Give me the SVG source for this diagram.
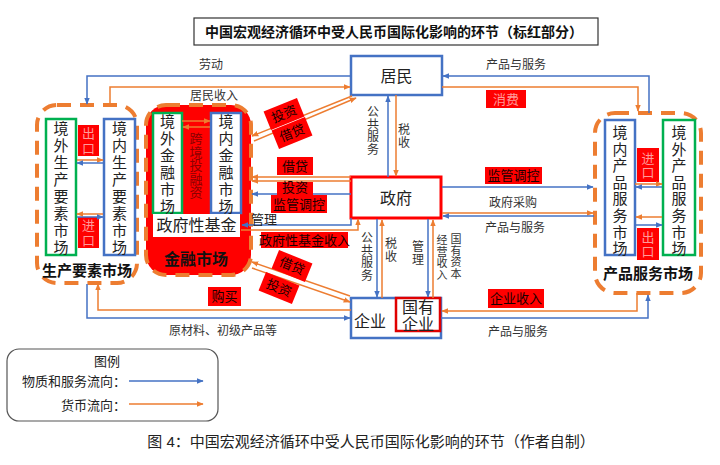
<svg xmlns="http://www.w3.org/2000/svg" width="720" height="465" viewBox="0 0 720 465">
<defs>
<style>
text{font-family:"Liberation Sans","Noto Sans CJK SC",sans-serif;fill:#222;dominant-baseline:central;text-anchor:middle}
.bl{fill:none;stroke:#4472C4;stroke-width:1.5;marker-end:url(#ab)}
.or{fill:none;stroke:#ED7D31;stroke-width:1.5;marker-end:url(#ao)}
.bbox{fill:#fff;stroke:#4472C4;stroke-width:2.5}
.gbox{fill:#fff;stroke:#00B050;stroke-width:2.5}
.dash{stroke:#ED7D31;stroke-width:4;stroke-dasharray:14 9}
.rl{fill:#FF0000}
.lt{font-size:13px;fill:#1a0000}
.lp{font-size:13px;fill:#ff9a9a}
.sm{font-size:12px;fill:#333}
.xs{font-size:11px;fill:#333}
.vt{font-size:15px}
.nd{font-size:16px}
</style>
<marker id="ab" viewBox="0 0 10 10" refX="9" refY="5" markerWidth="7" markerHeight="7" markerUnits="userSpaceOnUse" orient="auto"><path d="M0,1 L10,5 L0,9 z" fill="#4472C4"/></marker>
<marker id="ao" viewBox="0 0 10 10" refX="9" refY="5" markerWidth="7" markerHeight="7" markerUnits="userSpaceOnUse" orient="auto"><path d="M0,1 L10,5 L0,9 z" fill="#ED7D31"/></marker>
</defs>
<rect width="720" height="465" fill="#fff"/>

<g id="title">
<rect x="194" y="18" width="404" height="27" fill="#fff" stroke="#333" stroke-width="1.2"/>
<text x="394" y="32" style="font-size:14px;font-weight:bold;fill:#111">中国宏观经济循环中受人民币国际化影响的环节（标红部分）</text>
</g>

<g id="factor-market">
<rect x="37" y="105" width="100" height="178" rx="20" fill="#fff" class="dash"/>
<rect x="46" y="119" width="30" height="136" class="gbox"/>
<text class="vt"><tspan x="61" y="128">境</tspan><tspan x="61" y="145">外</tspan><tspan x="61" y="162">生</tspan><tspan x="61" y="179">产</tspan><tspan x="61" y="196">要</tspan><tspan x="61" y="213">素</tspan><tspan x="61" y="230">市</tspan><tspan x="61" y="247">场</tspan></text>
<rect x="104" y="119" width="31" height="136" class="bbox"/>
<text class="vt"><tspan x="119.5" y="128">境</tspan><tspan x="119.5" y="145">内</tspan><tspan x="119.5" y="162">生</tspan><tspan x="119.5" y="179">产</tspan><tspan x="119.5" y="196">要</tspan><tspan x="119.5" y="213">素</tspan><tspan x="119.5" y="230">市</tspan><tspan x="119.5" y="247">场</tspan></text>
<rect x="78" y="125" width="21" height="31" class="rl"/>
<text class="lp"><tspan x="88.5" y="133">出</tspan><tspan x="88.5" y="148">口</tspan></text>
<rect x="78" y="217" width="21" height="31" class="rl"/>
<text class="lp"><tspan x="88.5" y="225">进</tspan><tspan x="88.5" y="240">口</tspan></text>
<text x="87" y="270" style="font-size:15px;font-weight:bold;fill:#111">生产要素市场</text>
</g>

<g id="financial-market">
<rect x="146" y="105" width="105" height="170" rx="20" fill="#FF0000" class="dash"/>
<rect x="153" y="113" width="29" height="100" class="gbox"/>
<text class="vt"><tspan x="167.5" y="121">境</tspan><tspan x="167.5" y="138">外</tspan><tspan x="167.5" y="155">金</tspan><tspan x="167.5" y="172">融</tspan><tspan x="167.5" y="189">市</tspan><tspan x="167.5" y="206">场</tspan></text>
<rect x="211" y="113" width="30" height="100" class="bbox"/>
<text class="vt"><tspan x="226" y="121">境</tspan><tspan x="226" y="138">内</tspan><tspan x="226" y="155">金</tspan><tspan x="226" y="172">融</tspan><tspan x="226" y="189">市</tspan><tspan x="226" y="206">场</tspan></text>
<text style="font-size:13px;fill:#8a0000"><tspan x="196" y="138">跨</tspan><tspan x="196" y="151.5">境</tspan><tspan x="196" y="165">投</tspan><tspan x="196" y="178.5">融</tspan><tspan x="196" y="192">资</tspan></text>
<rect x="153" y="214" width="87" height="23" fill="#fff"/>
<text x="196.5" y="225.5" class="nd">政府性基金</text>
<text x="196" y="259" style="font-size:16px;font-weight:bold;fill:#111">金融市场</text>
</g>

<g id="product-market">
<rect x="595" y="113" width="106" height="180" rx="20" fill="#fff" class="dash"/>
<rect x="605" y="120" width="30" height="135" class="bbox"/>
<text class="vt"><tspan x="620" y="132">境</tspan><tspan x="620" y="148.6">内</tspan><tspan x="620" y="165.2">产</tspan><tspan x="620" y="181.8">品</tspan><tspan x="620" y="198.4">服</tspan><tspan x="620" y="215">务</tspan><tspan x="620" y="231.6">市</tspan><tspan x="620" y="248">场</tspan></text>
<rect x="663" y="120" width="32" height="135" class="gbox"/>
<text class="vt"><tspan x="679" y="132">境</tspan><tspan x="679" y="148.6">外</tspan><tspan x="679" y="165.2">产</tspan><tspan x="679" y="181.8">品</tspan><tspan x="679" y="198.4">服</tspan><tspan x="679" y="215">务</tspan><tspan x="679" y="231.6">市</tspan><tspan x="679" y="248">场</tspan></text>
<rect x="637" y="148" width="22" height="34" class="rl"/>
<text class="lp"><tspan x="648" y="158">进</tspan><tspan x="648" y="172">口</tspan></text>
<rect x="637" y="228" width="22" height="32" class="rl"/>
<text class="lp"><tspan x="648" y="237">出</tspan><tspan x="648" y="251">口</tspan></text>
<text x="648" y="273" style="font-size:15px;font-weight:bold;fill:#111">产品服务市场</text>
</g>

<g id="residents">
<rect x="351" y="56" width="91" height="39" class="bbox"/>
<text x="396.5" y="76" class="nd">居民</text>
</g>

<g id="government">
<rect x="351" y="177" width="90" height="41" fill="#fff" stroke="#FF0000" stroke-width="3"/>
<text x="396" y="198" class="nd">政府</text>
</g>

<g id="enterprise">
<rect x="351" y="298" width="90" height="40" class="bbox"/>
<text x="370" y="321" class="nd">企业</text>
<rect x="396" y="298" width="44" height="33" fill="#fff" stroke="#E00000" stroke-width="2.5"/>
<text class="nd"><tspan x="418" y="307">国有</tspan><tspan x="418" y="324">企业</tspan></text>
</g>

<g id="connectors">
<path class="bl" d="M351,76 H87 V104"/>
<path class="or" d="M110,106 V87 H350"/>
<path class="bl" d="M649,113 V76 H443"/>
<path class="or" d="M442,87 H638 V111"/>
<path class="bl" d="M388,177 V96"/>
<path class="or" d="M396,95 V176"/>
<path class="or" d="M352,96 L252,136"/>
<path class="or" d="M254,141 L356,98"/>
<path class="or" d="M351,177 H252"/>
<path class="or" d="M351,181 H252"/>
<path class="bl" d="M351,194 H252"/>
<path class="bl" d="M351,218 V225 H242"/>
<path class="or" d="M241,230 H358 V219"/>
<path class="bl" d="M442,187 H593"/>
<path class="or" d="M442,213 H593"/>
<path class="bl" d="M594,216 H443"/>
<path class="bl" d="M377,219 V297"/>
<path class="or" d="M382,298 V220"/>
<path class="bl" d="M428,219 V297"/>
<path class="or" d="M433,298 V220"/>
<path class="or" d="M350,296 L252,262"/>
<path class="or" d="M252,268 L350,302"/>
<path class="or" d="M351,310 H98 V284"/>
<path class="bl" d="M87,284 V318 H350"/>
<path class="or" d="M637,293 V311 H442"/>
<path class="bl" d="M441,318 H648 V295"/>
<path class="or" d="M77,160 H103"/>
<path class="bl" d="M103,163 H77"/>
<path class="or" d="M103,214 H77"/>
<path class="bl" d="M77,217 H103"/>
<path class="or" d="M182,121 H210"/>
<path class="or" d="M210,127 H183"/>
<path class="or" d="M635,184 H662"/>
<path class="bl" d="M662,187 H636"/>
<path class="or" d="M662,217 H636"/>
<path class="bl" d="M635,225 H662"/>

<text x="211" y="65" class="sm">劳动</text>
<text x="214" y="96" class="sm">居民收入</text>
<text x="516" y="65" class="sm">产品与服务</text>
<rect x="486" y="90" width="40" height="18" class="rl"/>
<text x="506" y="99" class="lp">消费</text>
<text class="sm"><tspan x="373" y="112">公</tspan><tspan x="373" y="124.5">共</tspan><tspan x="373" y="137">服</tspan><tspan x="373" y="149.5">务</tspan></text>
<text class="sm"><tspan x="404" y="130">税</tspan><tspan x="404" y="143">收</tspan></text>
<g transform="translate(284,114) rotate(-22)"><rect x="-18" y="-10" width="36" height="20" class="rl"/><text x="0" y="0" class="lt">投资</text></g>
<g transform="translate(292,133) rotate(-22)"><rect x="-18" y="-10" width="36" height="20" class="rl"/><text x="0" y="0" class="lt">借贷</text></g>
<rect x="277" y="157" width="36" height="18" class="rl"/>
<text x="295" y="166" class="lt">借贷</text>
<rect x="277" y="182" width="36" height="13" class="rl"/>
<text x="295" y="187" class="lt">投资</text>
<rect x="271" y="195" width="56" height="18" class="rl"/>
<text x="299" y="204" class="lt">监管调控</text>
<text x="264" y="219" style="font-size:13px;fill:#222">管理</text>
<rect x="261" y="232" width="87" height="16" class="rl"/>
<text x="304.5" y="240" class="lt">政府性基金收入</text>
<g transform="translate(292,266) rotate(22)"><rect x="-18" y="-10" width="36" height="20" class="rl"/><text x="0" y="0" class="lt">借贷</text></g>
<g transform="translate(279,288) rotate(22)"><rect x="-18" y="-10" width="36" height="20" class="rl"/><text x="0" y="0" class="lt">投资</text></g>
<rect x="208" y="287" width="33" height="19" class="rl"/>
<text x="224.5" y="296.5" class="lt">购买</text>
<text x="223" y="331" class="sm">原材料、初级产品等</text>
<rect x="485" y="167" width="57" height="17" class="rl"/>
<text x="513.5" y="175.5" class="lt">监管调控</text>
<text x="513" y="203" class="sm">政府采购</text>
<text x="515" y="228" class="sm">产品与服务</text>
<text class="sm"><tspan x="367" y="238">公</tspan><tspan x="367" y="250.7">共</tspan><tspan x="367" y="263.4">服</tspan><tspan x="367" y="276">务</tspan></text>
<text class="sm"><tspan x="391" y="244">税</tspan><tspan x="391" y="257">收</tspan></text>
<text class="sm"><tspan x="418" y="247">管</tspan><tspan x="418" y="260">理</tspan></text>
<text class="xs"><tspan x="442" y="240">经</tspan><tspan x="442" y="251.5">营</tspan><tspan x="442" y="263">收</tspan><tspan x="442" y="274.5">入</tspan></text>
<text class="xs"><tspan x="456" y="239">国</tspan><tspan x="456" y="250.5">有</tspan><tspan x="456" y="262">资</tspan><tspan x="456" y="273.5">本</tspan></text>
<rect x="488" y="289" width="56" height="19" class="rl"/>
<text x="516" y="298.5" class="lt">企业收入</text>
<text x="518" y="332" class="sm">产品与服务</text>
</g>

<g id="legend">
<rect x="7" y="349" width="211" height="72" rx="12" fill="#fff" stroke="#555" stroke-width="1.2"/>
<text x="107" y="361" style="font-size:13px">图例</text>
<text x="126" y="381" style="font-size:13px;text-anchor:end">物质和服务流向：</text>
<path class="bl" d="M129,381 H203"/>
<text x="126" y="405" style="font-size:13px;text-anchor:end">货币流向：</text>
<path class="or" d="M129,404 H203"/>
</g>

<text x="371" y="441" style="font-size:15px;fill:#222">图 4：中国宏观经济循环中受人民币国际化影响的环节（作者自制）</text>
</svg>
